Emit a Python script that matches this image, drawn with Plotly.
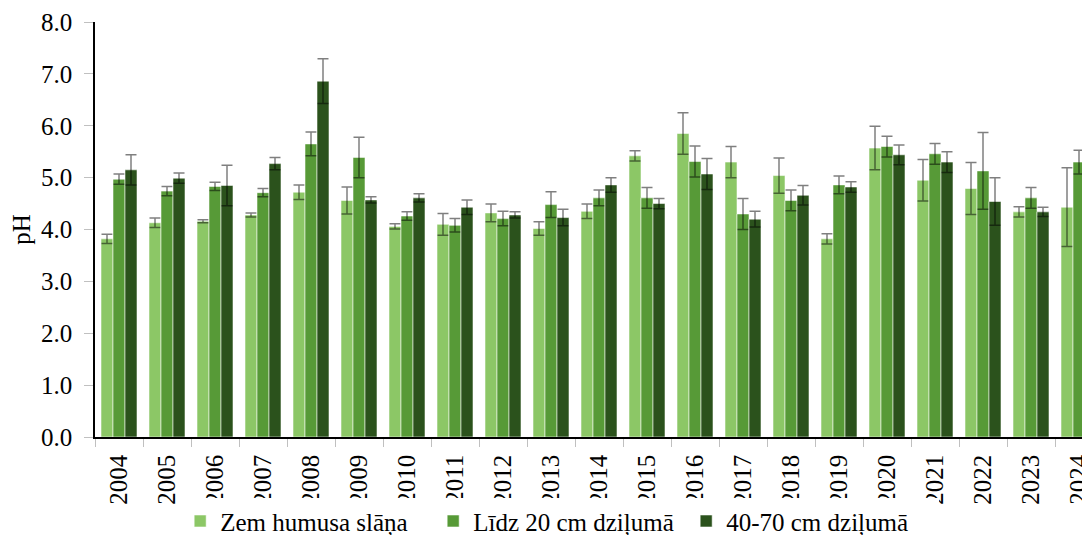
import plotly.graph_objects as go

years = [str(y) for y in range(2004, 2025)]

zem = [3.82, 4.13, 4.16, 4.28, 4.72, 4.56, 4.06, 4.10, 4.32, 4.02, 4.35, 5.42, 5.85, 5.30, 5.04, 3.82, 5.57, 4.95, 4.79, 4.34, 4.43]
zem_err = [0.09, 0.09, 0.03, 0.04, 0.14, 0.26, 0.05, 0.21, 0.17, 0.13, 0.14, 0.10, 0.40, 0.30, 0.34, 0.10, 0.42, 0.40, 0.50, 0.10, 0.76]

lidz20 = [4.97, 4.74, 4.83, 4.71, 5.65, 5.39, 4.26, 4.08, 4.21, 4.48, 4.61, 4.61, 5.31, 4.30, 4.56, 4.86, 5.60, 5.46, 5.13, 4.61, 5.30]
lidz20_err = [0.10, 0.09, 0.08, 0.08, 0.23, 0.39, 0.08, 0.13, 0.14, 0.25, 0.15, 0.20, 0.30, 0.30, 0.20, 0.17, 0.20, 0.20, 0.74, 0.20, 0.23]

d4070 = [5.15, 4.99, 4.85, 5.27, 6.86, 4.57, 4.61, 4.43, 4.28, 4.23, 4.86, 4.50, 5.07, 4.20, 4.66, 4.82, 5.44, 5.30, 4.54, 4.34, 5.22]
d4070_err = [0.29, 0.10, 0.39, 0.12, 0.43, 0.06, 0.08, 0.14, 0.06, 0.16, 0.14, 0.10, 0.30, 0.15, 0.19, 0.10, 0.19, 0.20, 0.46, 0.09, 0.75]

names = ["Zem humusa slāņa", "Līdz 20 cm dziļumā", "40-70 cm dziļumā"]
colors = ["#8CC766", "#579A37", "#2B521C"]

FONT = "Liberation Serif"
FS = 25

fig = go.Figure()
for name, vals, errs, col in zip(names, [zem, lidz20, d4070], [zem_err, lidz20_err, d4070_err], colors):
    fig.add_trace(go.Bar(
        x=years, y=vals, name=name,
        marker=dict(color=col, line=dict(color="rgba(255,255,255,0.55)", width=1)),
        error_y=dict(type="data", array=errs, symmetric=True,
                     color="rgba(0,0,0,0.5)", thickness=1.5, width=5.5),
    ))

# page body has an 8px default margin; compensate so the plot lands where the reference has it
OFF = 8
W, H = 1090 - OFF, 535 - OFF
left = 95 - OFF
cat_w = 48
right_end = (W - left) / cat_w - 0.5

fig.update_layout(
    width=W, height=H,
    margin=dict(l=left, r=0, t=22 - OFF, b=98, autoexpand=False),
    barmode="group", bargap=0.25, bargroupgap=0,
    plot_bgcolor="white", paper_bgcolor="white",
    font=dict(family=FONT, size=FS, color="black"),
    showlegend=True,
    legend=dict(orientation="h", x=0.467, xanchor="center", y=-0.203, yanchor="middle",
                font=dict(family=FONT, size=FS), itemwidth=30, traceorder="normal",
                entrywidth=208, entrywidthmode="pixels"),
    xaxis=dict(
        type="category", range=[-0.5, right_end], automargin=False,
        showline=True, linecolor="black", linewidth=1.5,
        ticks="outside", tickson="boundaries", ticklen=8, tickcolor="#c0c0c0",
        tickangle=-90, tickfont=dict(family=FONT, size=FS),
        ticklabelstandoff=6,
        showgrid=False,
    ),
    yaxis=dict(
        range=[0, 8], dtick=1, tickformat=".1f", automargin=False,
        showline=True, linecolor="black", linewidth=1.5,
        ticks="outside", ticklen=9, tickcolor="#c0c0c0",
        ticklabelstandoff=7,
        tickfont=dict(family=FONT, size=FS),
        showgrid=False, zeroline=False,
        title=dict(text="pH", font=dict(family=FONT, size=FS), standoff=10),
    ),
)

fig.write_html("out.html")
